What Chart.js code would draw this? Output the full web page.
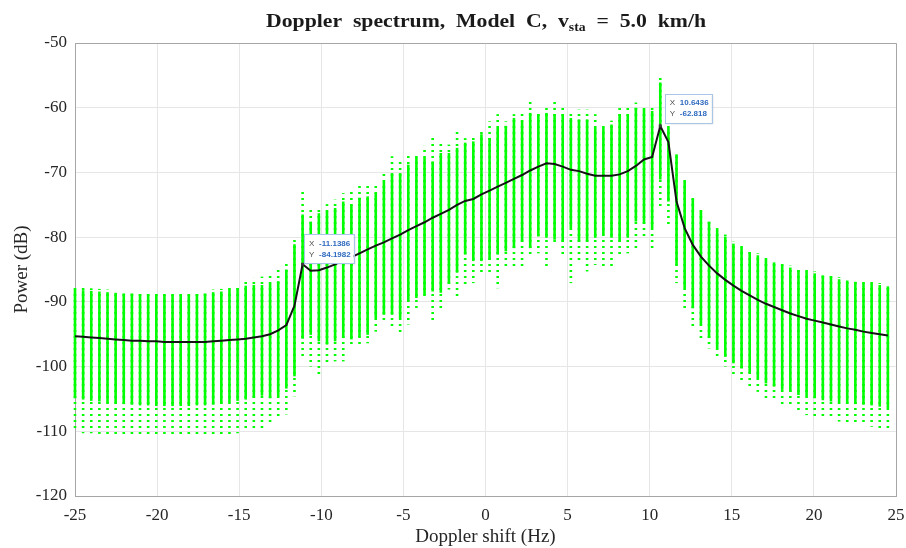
<!DOCTYPE html>
<html>
<head>
<meta charset="utf-8">
<script src="https://cdn.jsdelivr.net/npm/chart.js@4.4.0/dist/chart.umd.min.js"></script>
<style>
  html, body { margin: 0; padding: 0; background: #fff; }
  #chart { display: block; }
</style>
</head>
<body>
<canvas id="chart" width="906" height="548"></canvas>
<script>
// Doppler frequency bins (Hz)
const freqHz = [
  -25.0000, -24.5050, -24.0099, -23.5149, -23.0198, -22.5248, -22.0297, -21.5347, -21.0396, -20.5446,
  -20.0495, -19.5545, -19.0594, -18.5644, -18.0693, -17.5743, -17.0792, -16.5842, -16.0891, -15.5941,
  -15.0990, -14.6040, -14.1089, -13.6139, -13.1188, -12.6238, -12.1287, -11.6337, -11.1386, -10.6436,
  -10.1485, -9.6535, -9.1584, -8.6634, -8.1683, -7.6733, -7.1782, -6.6832, -6.1881, -5.6931,
  -5.1980, -4.7030, -4.2079, -3.7129, -3.2178, -2.7228, -2.2277, -1.7327, -1.2376, -0.7426,
  -0.2475, 0.2475, 0.7426, 1.2376, 1.7327, 2.2277, 2.7228, 3.2178, 3.7129, 4.2079,
  4.7030, 5.1980, 5.6931, 6.1881, 6.6832, 7.1782, 7.6733, 8.1683, 8.6634, 9.1584,
  9.6535, 10.1485, 10.6436, 11.1386, 11.6337, 12.1287, 12.6238, 13.1188, 13.6139, 14.1089,
  14.6040, 15.0990, 15.5941, 16.0891, 16.5842, 17.0792, 17.5743, 18.0693, 18.5644, 19.0594,
  19.5545, 20.0495, 20.5446, 21.0396, 21.5347, 22.0297, 22.5248, 23.0198, 23.5149, 24.0099,
  24.5050
];

// averaged spectrum (black curve)
const meanDb = [
  -95.3, -95.4, -95.5, -95.6, -95.7, -95.8, -95.9, -96.0, -96.0, -96.1,
  -96.1, -96.2, -96.2, -96.2, -96.2, -96.2, -96.2, -96.1, -96.0, -95.9,
  -95.8, -95.7, -95.5, -95.3, -95.0, -94.4, -93.6, -90.6, -84.198, -85.2,
  -85.1, -84.7, -84.2, -83.6, -83.1, -82.5, -81.9, -81.3, -80.8, -80.2,
  -79.6, -78.9, -78.3, -77.7, -77.0, -76.4, -75.8, -75.0, -74.4, -74.1,
  -73.4, -72.8, -72.2, -71.6, -71.0, -70.4, -69.7, -69.1, -68.6, -68.7,
  -69.1, -69.6, -69.8, -70.2, -70.5, -70.5, -70.5, -70.3, -69.8, -69.0,
  -68.0, -67.6, -62.818, -65.3, -74.5, -78.6, -81.2, -83.0, -84.4, -85.6,
  -86.6, -87.5, -88.3, -89.0, -89.7, -90.3, -90.8, -91.3, -91.8, -92.2,
  -92.6, -92.9, -93.2, -93.5, -93.8, -94.1, -94.3, -94.6, -94.8, -95.0,
  -95.2
];

// spread of the individual realisations (green columns)
const sparseTopDb = [
  -87.6, -87.7, -87.9, -88.0, -88.1, -88.2, -88.3, -88.3, -88.4, -88.4,
  -88.4, -88.5, -88.5, -88.5, -88.5, -88.4, -88.3, -88.1, -88.0, -87.6,
  -87.4, -86.9, -86.3, -86.1, -85.8, -84.8, -83.7, -80.4, -72.6, -75.5,
  -75.2, -74.9, -74.2, -73.2, -72.6, -71.6, -72.1, -71.9, -69.8, -67.5,
  -68.3, -67.2, -67.0, -65.9, -64.1, -65.2, -65.7, -63.6, -64.7, -64.4,
  -63.4, -62.1, -61.0, -62.1, -61.0, -60.8, -58.7, -60.5, -59.8, -58.7,
  -59.8, -60.8, -60.3, -60.3, -61.0, -62.3, -62.0, -60.0, -59.8, -59.2,
  -59.8, -59.8, -55.4, -62.6, -67.0, -71.1, -73.8, -75.7, -77.3, -78.6,
  -79.6, -80.7, -81.3, -82.0, -82.5, -83.2, -83.6, -84.0, -84.4, -84.8,
  -85.0, -85.3, -85.6, -85.8, -86.2, -86.4, -86.6, -86.8, -86.9, -87.1,
  -87.3
];
const denseTopDb = [
  -88.1, -88.2, -88.3, -88.4, -88.5, -88.6, -88.7, -88.7, -88.8, -88.8,
  -88.8, -88.9, -88.9, -88.9, -88.9, -88.8, -88.7, -88.5, -88.4, -88.1,
  -87.9, -87.5, -87.4, -87.4, -87.2, -86.8, -85.0, -81.1, -76.5, -77.6,
  -76.3, -76.0, -75.5, -74.5, -75.0, -73.9, -73.7, -73.2, -71.4, -70.1,
  -70.1, -68.8, -67.7, -67.7, -68.3, -67.0, -67.0, -66.2, -65.4, -65.2,
  -64.1, -64.7, -63.1, -62.8, -61.6, -62.1, -60.8, -61.0, -60.8, -61.0,
  -61.0, -61.6, -61.8, -61.8, -63.1, -63.1, -62.6, -61.0, -61.0, -60.0,
  -60.3, -60.5, -56.1, -63.1, -67.2, -71.4, -74.1, -76.0, -77.6, -78.9,
  -79.9, -81.0, -81.6, -82.3, -82.8, -83.5, -83.9, -84.3, -84.7, -85.1,
  -85.3, -85.6, -85.9, -86.1, -86.5, -86.7, -86.9, -87.1, -87.2, -87.4,
  -87.6
];
const denseBottomDb = [
  -104.9, -105.1, -105.3, -105.4, -105.6, -105.7, -105.8, -105.9, -106.0, -106.0,
  -106.1, -106.1, -106.1, -106.1, -106.1, -106.0, -106.0, -105.9, -105.7, -105.5,
  -105.3, -105.1, -104.8, -104.5, -104.9, -104.6, -103.4, -101.5, -95.7, -95.1,
  -96.1, -96.6, -96.1, -95.6, -95.8, -95.4, -95.1, -92.5, -92.0, -92.0,
  -92.5, -89.9, -89.4, -88.9, -88.4, -88.6, -87.2, -85.5, -82.7, -83.7,
  -83.7, -83.5, -82.7, -82.2, -81.7, -80.7, -81.7, -79.9, -80.1, -80.4,
  -80.7, -78.6, -80.7, -80.7, -80.1, -79.6, -80.1, -80.7, -80.1, -77.6,
  -77.9, -78.6, -71.1, -74.5, -84.3, -87.9, -91.0, -93.5, -95.6, -97.2,
  -98.5, -99.5, -100.3, -101.0, -101.8, -102.6, -103.1, -103.6, -103.9, -104.4,
  -104.6, -104.9, -105.2, -105.4, -105.5, -105.7, -105.8, -105.9, -106.0, -106.2,
  -106.4
];
const sparseBottomDb = [
  -110.1, -110.3, -110.3, -110.4, -110.5, -110.5, -110.6, -110.6, -110.7, -110.7,
  -110.8, -110.8, -110.8, -110.8, -110.7, -110.7, -110.6, -110.6, -110.5, -110.5,
  -110.3, -110.1, -109.6, -109.5, -109.1, -107.7, -107.4, -104.6, -98.7, -100.0,
  -101.2, -99.5, -99.2, -99.2, -96.9, -96.9, -96.4, -94.6, -93.0, -93.8,
  -95.1, -93.5, -91.0, -89.4, -93.3, -91.2, -88.1, -89.5, -87.6, -87.1,
  -85.8, -85.8, -87.9, -84.8, -84.8, -85.0, -82.7, -82.5, -85.0, -81.2,
  -83.2, -87.1, -83.7, -85.3, -84.3, -85.0, -85.0, -82.7, -82.5, -81.7,
  -80.4, -82.2, -75.2, -78.1, -87.1, -91.2, -93.8, -95.6, -97.2, -98.7,
  -100.0, -101.3, -102.3, -103.1, -103.9, -104.9, -105.4, -105.9, -106.4, -106.9,
  -107.5, -107.7, -108.0, -108.2, -108.5, -108.8, -109.0, -109.1, -109.3, -109.5,
  -109.8
];

const xTicks = [-25, -20, -15, -10, -5, 0, 5, 10, 15, 20, 25];
const yTicks = [-120, -110, -100, -90, -80, -70, -60, -50];

// data tips
const tipX = [-11.1386, 10.6436];
const tipY = [-84.1982, -62.818];
const tipXText = ['-11.1386', '10.6436'];
const tipYText = ['-84.1982', '-62.818'];

const titlePre = 'Doppler  spectrum,  Model  C,  v';
const titleSub = 'sta';
const titlePost = '  =  5.0  km/h';

const GREEN = '#00ff00';
const SERIF = '"Liberation Serif", "Times New Roman", serif';

function dotPattern() {
    const c = document.createElement('canvas');
    c.width = 4;
    c.height = 6;
    const g = c.getContext('2d');
    g.fillStyle = GREEN;
    g.fillRect(0, 0, 4, 2);
    return g.createPattern(c, 'repeat');
}

const boxPlugin = {
    id: 'boxFrame',
    afterDraw(chart) {
        const { ctx, chartArea: a } = chart;
        ctx.save();
        ctx.strokeStyle = '#a6a6a6';
        ctx.lineWidth = 1;
        ctx.beginPath();
        ctx.moveTo(a.left, a.top + 0.5);
        ctx.lineTo(a.right + 0.5, a.top + 0.5);
        ctx.lineTo(a.right + 0.5, a.bottom);
        ctx.stroke();
        ctx.restore();
    }
};

const tipPlugin = {
    id: 'dataTips',
    afterDatasetsDraw(chart) {
        const { ctx, scales: { x, y } } = chart;
        const dx = [1.5, 4.5], dy = [1, 3];
        tipX.forEach((tx, k) => {
            const px = x.getPixelForValue(tx);
            const py = y.getPixelForValue(tipY[k]);
            ctx.save();
            ctx.fillStyle = '#3a3a3a';
            ctx.fillRect(px - 1.5, py - 1.5, 3, 3);

            ctx.font = 'bold 8px "Liberation Sans", Arial, sans-serif';
            const vw = Math.max(ctx.measureText(tipXText[k]).width, ctx.measureText(tipYText[k]).width);
            const w = vw + 18, h = 29;
            const bx = px + dx[k], by = py - h - dy[k];
            ctx.shadowColor = 'rgba(0,0,0,0.15)';
            ctx.shadowBlur = 2;
            ctx.shadowOffsetX = 1;
            ctx.shadowOffsetY = 1;
            ctx.fillStyle = '#ffffff';
            ctx.fillRect(bx, by, w, h);
            ctx.shadowColor = 'transparent';
            ctx.strokeStyle = '#a9c6e8';
            ctx.lineWidth = 1;
            ctx.strokeRect(Math.round(bx) + 0.5, Math.round(by) + 0.5, Math.round(w), Math.round(h));

            ctx.textBaseline = 'middle';
            ctx.font = '8px "Liberation Sans", Arial, sans-serif';
            ctx.fillStyle = '#4d4d4d';
            ctx.fillText('X', bx + 5, by + 9);
            ctx.fillText('Y', bx + 5, by + 20);
            ctx.font = 'bold 8px "Liberation Sans", Arial, sans-serif';
            ctx.fillStyle = '#2f6bbf';
            ctx.fillText(tipXText[k], bx + 15, by + 9);
            ctx.fillText(tipYText[k], bx + 15, by + 20);
            ctx.restore();
        });
    }
};

const titlePlugin = {
    id: 'subTitle',
    afterDraw(chart) {
        const ctx = chart.ctx;
        const big = 'bold 19px ' + SERIF;
        const small = 'bold 12px ' + SERIF;
        const parts = [
            { t: titlePre, f: big, dy: 0 },
            { t: titleSub, f: small, dy: 4 },
            { t: titlePost, f: big, dy: 0 }
        ];
        ctx.save();
        let total = 0;
        parts.forEach(p => { ctx.font = p.f; p.w = ctx.measureText(p.t).width; total += p.w; });
        const target = 440;
        ctx.translate(486 - target / 2, 27);
        ctx.scale(target / total, 1);
        ctx.fillStyle = '#1a1a1a';
        ctx.textBaseline = 'alphabetic';
        let cx = 0;
        parts.forEach(p => {
            ctx.font = p.f;
            ctx.fillText(p.t, cx, p.dy);
            cx += p.w;
        });
        ctx.restore();
    }
};

const ctx = document.getElementById('chart').getContext('2d');
new Chart(ctx, {
    type: 'bar',
    data: {
        datasets: [
            {
                type: 'line',
                label: 'mean',
                data: freqHz.map((f, i) => ({ x: f, y: meanDb[i] })),
                borderColor: '#141414',
                borderWidth: 2,
                pointRadius: 0,
                tension: 0,
                order: 0
            },
            {
                label: 'dense',
                data: freqHz.map((f, i) => ({ x: f, y: [denseBottomDb[i], denseTopDb[i]] })),
                backgroundColor: GREEN,
                maxBarThickness: 2.6,
                grouped: false,
                clip: false,
                order: 1
            },
            {
                label: 'sparse',
                data: freqHz.map((f, i) => ({ x: f, y: [sparseBottomDb[i], sparseTopDb[i]] })),
                backgroundColor: dotPattern(),
                maxBarThickness: 2.6,
                grouped: false,
                clip: false,
                order: 2
            }
        ]
    },
    options: {
        responsive: false,
        animation: false,
        layout: { padding: { top: 43, right: 10, left: 0, bottom: 0 } },
        plugins: {
            legend: { display: false },
            tooltip: { enabled: false },
            title: { display: false }
        },
        scales: {
            x: {
                type: 'linear',
                min: -25,
                max: 25,
                offset: false,
                afterBuildTicks: s => { s.ticks = xTicks.map(v => ({ value: v })); },
                afterFit: s => { s.height = 52; s.paddingLeft = 0; s.paddingRight = 10; },
                grid: { color: '#e6e6e6', drawTicks: false, offset: false },
                border: { color: '#a6a6a6' },
                ticks: { font: { family: SERIF, size: 17 }, color: '#262626', padding: 9, maxRotation: 0 },
                title: { display: true, text: 'Doppler shift (Hz)', font: { family: SERIF, size: 19 }, color: '#262626', padding: { top: 0, bottom: 0 } }
            },
            y: {
                min: -120,
                max: -50,
                afterBuildTicks: s => { s.ticks = yTicks.map(v => ({ value: v })); },
                afterFit: s => { s.width = 75; },
                grid: { color: '#e6e6e6', drawTicks: false },
                border: { color: '#a6a6a6' },
                ticks: { font: { family: SERIF, size: 17 }, color: '#262626', padding: 8 },
                title: { display: true, text: 'Power (dB)', font: { family: SERIF, size: 19 }, color: '#262626', padding: { top: 11, bottom: 0 } }
            }
        }
    },
    plugins: [boxPlugin, tipPlugin, titlePlugin]
});
</script>
</body>
</html>
